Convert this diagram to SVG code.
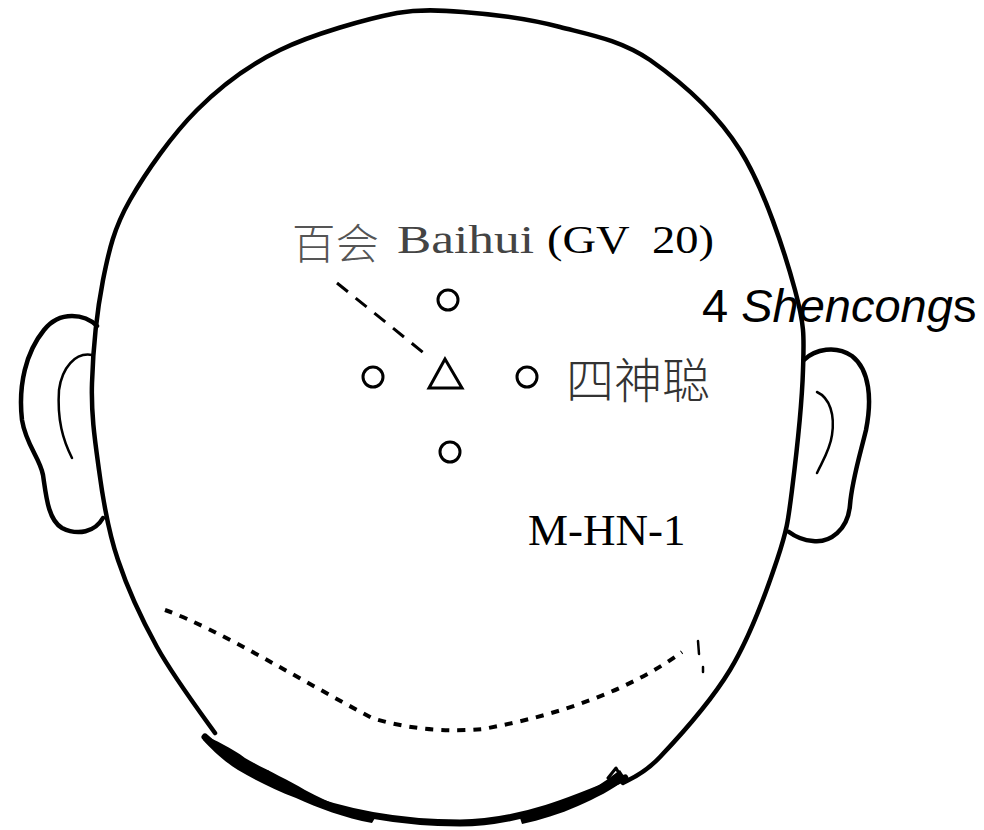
<svg xmlns="http://www.w3.org/2000/svg" width="984" height="830" viewBox="0 0 984 830">
  <style>
    .outline { fill: none; stroke: #000; stroke-width: 4.5; stroke-linecap: round; stroke-linejoin: round; }
    .thin { fill: none; stroke: #000; stroke-width: 2.5; stroke-linecap: round; }
    .hair { fill: none; stroke: #000; stroke-linecap: round; stroke-linejoin: round; }
    .hairline { fill: none; stroke: #000; stroke-width: 4; stroke-dasharray: 8 8; }
    .lead { fill: none; stroke: #000; stroke-width: 3; stroke-dasharray: 14 10; }
    .pt { fill: none; stroke: #000; stroke-width: 3; }
    .cjk { font-family: "Noto Sans CJK SC", sans-serif; font-weight: 300; }
    .serif { font-family: "Liberation Serif", serif; fill: #000; }
    .sans { font-family: "Liberation Sans", sans-serif; fill: #000; }
  </style>
  <rect width="984" height="830" fill="#fff"/>

  <!-- head outline -->
  <g id="head">
    <path class="outline" d="M215,733 C205,719 173,676 157,647 C141,618 128,590 118,560 C108,531 103,500 99,470 C95,441 91,415 92,383 C93,351 97,311 103,280 C109,250 114,228 130,200 C146,172 172,135 197,110 C222,85 247,66 280,50 C313,34 366,19 397,13 C420,9 440,10 463,12 C490,14 529,19 560,27 C591,35 620,40 650,60 C680,81 716,112 740,150 C764,188 785,253 795,290 C805,327 804,337 803,370 C802,403 796,458 792,490 C788,522 787,530 777,560 C767,590 750,637 730,670 C710,703 678,738 660,757 C642,776 629,779 623,783"/>
    <!-- hair at the nape -->
    <path class="hair" stroke-width="7" d="M205,737 C230,760 262,779 300,795 C340,812 400,823 460,823 C520,823 578,798 625,778"/>
    <path d="M203,735 C215,740 232,748 245,758 C262,768 285,778 305,790 C330,803 350,812 375,818 L372,823 C345,818 318,808 296,798 C275,790 255,780 238,770 C225,762 212,750 203,740 Z" fill="#000"/>
    <path d="M520,818 C545,810 570,800 590,790 C602,784 612,776 620,770 L626,779 C612,790 596,798 578,806 C560,814 540,820 522,824 Z" fill="#000"/>
    <path class="hair" stroke-width="3" d="M232,762 L246,766 M258,774 L268,772 M608,778 L616,768 L620,775"/>
    <!-- hairline -->
    <path class="hairline" d="M165,610 C220,630 300,680 372,718 C410,730 450,732 483,729 C560,715 630,690 682,652"/>
    <path class="thin" stroke-width="3" d="M698,641 L699,654 M703,667 L703,672"/>
  </g>

  <!-- ears -->
  <g id="ear-left">
    <path class="outline" d="M97,326 C85,314 60,310 44,330 C26,352 18,385 22,420 C26,445 40,458 43,475 C46,495 48,520 62,528 C78,536 95,532 103,518"/>
    <path class="thin" d="M92,355 C75,352 62,368 59,390 C57,420 63,440 72,458"/>
  </g>
  <g id="ear-right">
    <path class="outline" d="M804,360 C815,349 836,345 852,356 C870,370 872,400 866,430 C860,455 852,480 850,505 C848,530 830,543 813,541 C800,540 793,535 789,532"/>
    <path class="thin" d="M817,392 C830,398 835,415 832,435 C830,450 822,462 817,473"/>
  </g>

  <!-- connectors -->
  <g id="connectors">
    <path class="lead" d="M337,283 L430,358"/>
  </g>

  <!-- acupoints -->
  <g id="baihui-point">
    <path class="pt" d="M445,359 L429,388 L462,388 Z" stroke-width="4" stroke-linejoin="miter"/>
  </g>
  <g id="shencong-points">
    <circle class="pt" cx="448" cy="300" r="10"/>
    <circle class="pt" cx="373" cy="377" r="10"/>
    <circle class="pt" cx="527" cy="377" r="10"/>
    <circle class="pt" cx="450" cy="452" r="10"/>
  </g>

  <!-- labels -->
  <g id="label-baihui">
    <text class="cjk" x="292" y="259" font-size="42" fill="#555" textLength="87" lengthAdjust="spacingAndGlyphs">百会</text>
    <text class="serif" x="397" y="253" font-size="40" fill="#444" style="fill:#444" textLength="137" lengthAdjust="spacingAndGlyphs">Baihui</text>
    <text class="serif" x="547" y="253" font-size="39" textLength="167" lengthAdjust="spacingAndGlyphs" xml:space="preserve">(GV  20)</text>
  </g>
  <g id="label-shencong">
    <text class="sans" x="702" y="322" font-size="47">4 <tspan font-style="italic">Shencong</tspan>s</text>
    <text class="cjk" x="566" y="398" font-size="48" fill="#333">四神聪</text>
  </g>
  <g id="label-code">
    <text class="serif" x="528" y="545" font-size="45">M-HN-1</text>
  </g>
</svg>
